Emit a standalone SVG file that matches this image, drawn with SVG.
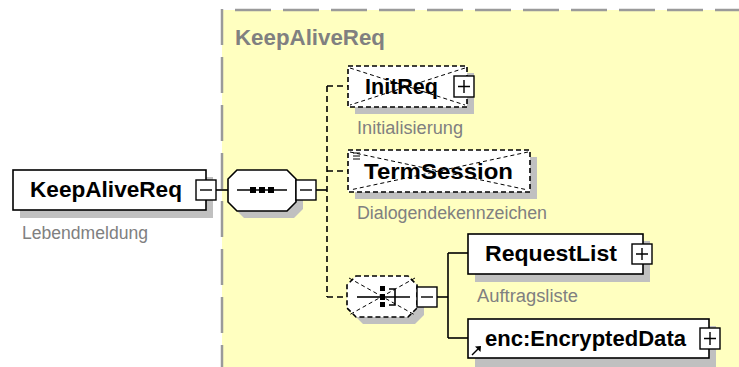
<svg xmlns="http://www.w3.org/2000/svg" width="739" height="367" viewBox="0 0 739 367">
<style>
.bg{fill:#ffffc0}
.frame{stroke:#9a9a9a;stroke-width:2.5;fill:none;stroke-dasharray:36 12}
.shadow{fill:#c0c0c0;stroke:none}
.box{fill:#ffffff;stroke:#000;stroke-width:1.6}
.dbox{fill:#ffffff;stroke:#000;stroke-width:1.6;stroke-dasharray:5 3}
.cross{stroke:#000;stroke-width:1;fill:none;stroke-dasharray:4 3}
.btn{fill:#ffffff;stroke:#000;stroke-width:1.4}
.sign{stroke:#000;stroke-width:1.4;fill:none}
.conn{stroke:#000;stroke-width:1.6;fill:none}
.dconn{stroke:#000;stroke-width:1.6;fill:none;stroke-dasharray:6 4}
.name{font-family:"Liberation Sans",Arial,sans-serif;font-weight:bold;font-size:22px;fill:#000}
.title{font-family:"Liberation Sans",Arial,sans-serif;font-weight:bold;font-size:22px;fill:#808080}
.doc{font-family:"Liberation Sans",Arial,sans-serif;font-size:18px;fill:#808080}
.ink{fill:#000}
</style>

<g id="group-frame">
  <rect class="bg" x="222" y="10" width="517" height="357"/>
  <line class="frame" x1="235" y1="10" x2="739" y2="10"/>
  <line class="frame" x1="222" y1="9" x2="222" y2="367"/>
  <text class="title" x="235" y="45" textLength="150" lengthAdjust="spacingAndGlyphs">KeepAliveReq</text>
</g>

<g id="connectors">
  <path class="conn" d="M216,190 H228"/>
  <path class="conn" d="M316,190 H327"/>
  <path class="dconn" d="M327,86 V297"/>
  <path class="dconn" d="M327,86 H348"/>
  <path class="dconn" d="M327,171 H348"/>
  <path class="dconn" d="M327,297 H347"/>
  <path class="conn" d="M437,297 H448"/>
  <path class="conn" d="M448,253 V338"/>
  <path class="conn" d="M448,253 H468"/>
  <path class="conn" d="M448,338 H468"/>
</g>

<g id="node-KeepAliveReq">
  <rect class="shadow" x="20" y="177" width="193" height="41"/>
  <rect class="box" x="13" y="170" width="193" height="40"/>
  <text class="name" x="30" y="197" textLength="152" lengthAdjust="spacingAndGlyphs">KeepAliveReq</text>
  <rect class="btn" x="196" y="180" width="20" height="20"/>
  <path class="sign" d="M200,190 H212"/>
  <text class="doc" x="22" y="239" textLength="126" lengthAdjust="spacingAndGlyphs">Lebendmeldung</text>
</g>

<g id="node-sequence">
  <path class="shadow" d="M244,177 H294 L303,186 V209 L294,218 H244 L235,209 V186 Z"/>
  <path class="box" d="M237,170 H287 L296,179 V202 L287,211 H237 L228,202 V179 Z"/>
  <path class="conn" d="M237,190 H287"/>
  <rect class="ink" x="250" y="187" width="6" height="6"/>
  <rect class="ink" x="259" y="187" width="6" height="6"/>
  <rect class="ink" x="268" y="187" width="6" height="6"/>
  <rect class="btn" x="296" y="180" width="20" height="20"/>
  <path class="sign" d="M300,190 H312"/>
</g>

<g id="node-InitReq">
  <rect class="shadow" x="355" y="73" width="119" height="41"/>
  <rect class="dbox" x="348" y="66" width="119" height="41"/>
  <path class="cross" d="M350,68 L465,105 M465,68 L350,105"/>
  <text class="name" x="365" y="94" textLength="73" lengthAdjust="spacingAndGlyphs">InitReq</text>
  <rect class="btn" x="454" y="76" width="20" height="21"/>
  <path class="sign" d="M458,86.5 H470 M464,80 V93"/>
  <text class="doc" x="357" y="134" textLength="106" lengthAdjust="spacingAndGlyphs">Initialisierung</text>
</g>

<g id="node-TermSession">
  <rect class="shadow" x="355" y="157" width="182" height="42"/>
  <rect class="dbox" x="348" y="150" width="182" height="42"/>
  <path class="cross" d="M350,152 L528,190 M528,152 L350,190"/>
  <path class="sign" d="M353,153 H360 M353,156 H360 M353,159 H360" style="stroke-width:1"/>
  <text class="name" x="364" y="179" textLength="149" lengthAdjust="spacingAndGlyphs">TermSession</text>
  <text class="doc" x="357" y="219" textLength="190" lengthAdjust="spacingAndGlyphs">Dialogendekennzeichen</text>
</g>

<g id="node-choice">
  <path class="shadow" d="M363,283 H415 L424,292 V315 L415,324 H363 L354,315 V292 Z"/>
  <path class="dbox" d="M356,276 H408 L417,285 V308 L408,317 H356 L347,308 V285 Z"/>
  <path class="cross" d="M349,278 L415,315 M415,278 L349,315"/>
  <path class="conn" d="M357,297 H380"/>
  <rect class="ink" x="380" y="286" width="5" height="5"/>
  <rect class="ink" x="380" y="294" width="5" height="6"/>
  <rect class="ink" x="380" y="302" width="5" height="5"/>
  <path class="conn" d="M385,297 H395 M389,289 H395 V305 H389 M395,297 H410"/>
  <rect class="btn" x="417" y="287" width="20" height="20"/>
  <path class="sign" d="M421,297 H433"/>
</g>

<g id="node-RequestList">
  <rect class="shadow" x="475" y="241" width="175" height="41"/>
  <rect class="box" x="468" y="234" width="175" height="40"/>
  <text class="name" x="485" y="261" textLength="132" lengthAdjust="spacingAndGlyphs">RequestList</text>
  <rect class="btn" x="632" y="244" width="20" height="20"/>
  <path class="sign" d="M636,254 H648 M642,248 V260"/>
  <text class="doc" x="477" y="302" textLength="101" lengthAdjust="spacingAndGlyphs">Auftragsliste</text>
</g>

<g id="node-EncryptedData">
  <rect class="shadow" x="475" y="326" width="241" height="41"/>
  <rect class="box" x="468" y="319" width="241" height="39"/>
  <text class="name" x="485" y="346" textLength="201" lengthAdjust="spacingAndGlyphs">enc:EncryptedData</text>
  <path class="conn" d="M472,355 L478,349" style="stroke-width:1.4"/>
  <path class="ink" d="M481,346 L480.5,352 L475,346.5 Z"/>
  <rect class="btn" x="700" y="328" width="20" height="21"/>
  <path class="sign" d="M704,338.5 H716 M710,332 V345"/>
</g>
</svg>
